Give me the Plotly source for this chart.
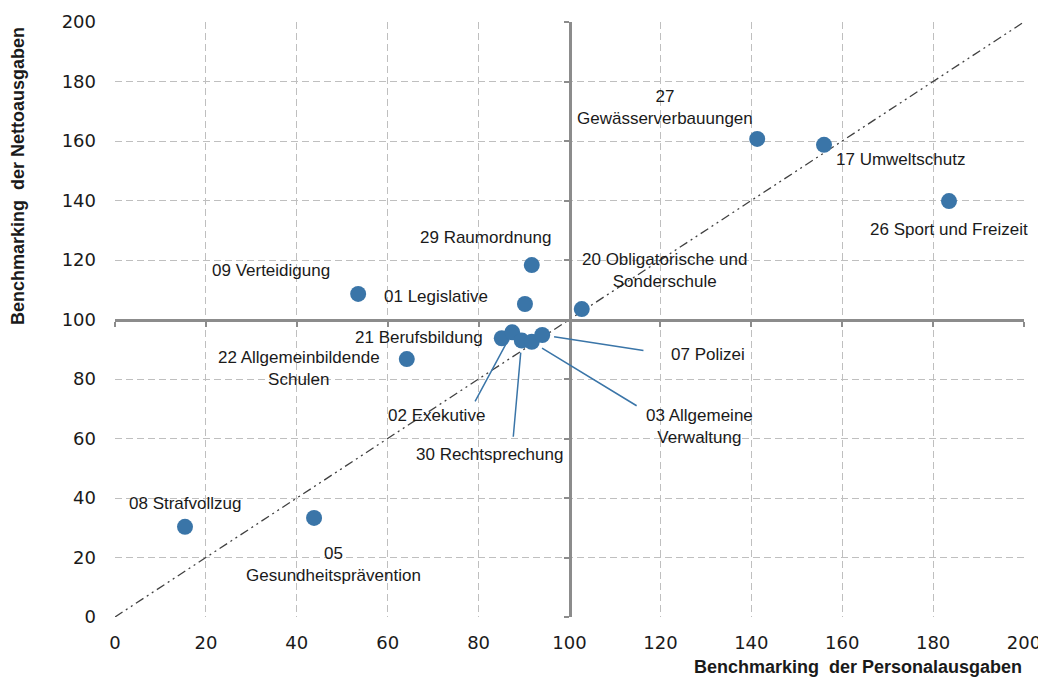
import plotly.graph_objects as go

# ---- data ----
names = ["27<br>Gewässerverbauungen", "17 Umweltschutz", "26 Sport und Freizeit",
         "29 Raumordnung", "09 Verteidigung", "01 Legislative",
         "20 Obligatorische und<br>Sonderschule", "22 Allgemeinbildende<br>Schulen",
         "21 Berufsbildung", "02 Exekutive", "30 Rechtsprechung",
         "03 Allgemeine<br>Verwaltung", "07 Polizei", "08 Strafvollzug",
         "05<br>Gesundheitsprävention"]
personal = [141.3, 156.0, 183.5, 91.7, 53.5, 90.2, 102.7, 64.2,
            85.1, 87.4, 89.5, 91.7, 94.0, 15.4, 43.8]
netto = [160.7, 158.7, 139.8, 118.3, 108.6, 105.2, 103.5, 86.7,
         93.7, 95.7, 92.9, 92.5, 94.8, 30.3, 33.3]

# label placement (data coords of label centre) and optional leader start
label_pos = [(121.0, 171.1), (172.9, 153.9), (183.5, 130.4),
             (81.6, 127.7), (34.3, 116.6), (70.6, 107.6),
             (120.8, 116.6), (40.5, 83.4),
             (66.9, 94.1), (70.8, 67.9), (82.3, 54.5),
             (128.7, 64.2), (130.5, 88.4), (15.4, 38.3),
             (48.0, 17.5)]
leader_start = {9: (79.05, 72.0), 10: (87.6, 60.1), 11: (115.1, 70.7), 12: (116.6, 89.5)}

ticks = list(range(0, 201, 20))
diag = [0, 200]

BLUE = "#3a75a8"
GRID = "#bfbfbf"
AXIS = "#8c8c8c"
TXT = "#1a1a1a"
FONT = "Liberation Sans, Arial, sans-serif"
TFONT = "Liberation Sans Narrow, Arial Narrow, Liberation Sans"

fig = go.Figure()

fig.add_trace(go.Scatter(x=diag, y=diag, mode="lines",
                         line=dict(color="#404040", width=1.3, dash="9px,4px,2px,4px,2px,4px"),
                         hoverinfo="skip", showlegend=False))

fig.add_trace(go.Scatter(x=personal, y=netto, mode="markers",
                         marker=dict(color=BLUE, size=16, line=dict(width=0)),
                         text=names, showlegend=False))

# helper invisible trace for crossing axes
fig.add_trace(go.Scatter(x=[0], y=[0], xaxis="x2", yaxis="y2", mode="markers",
                         marker=dict(opacity=0), hoverinfo="skip", showlegend=False))

annotations = []
for i, (nm, (lx, ly)) in enumerate(zip(names, label_pos)):
    annotations.append(dict(x=lx, y=ly, xref="x", yref="y", text=nm, showarrow=False,
                            align="center", xanchor="center", yanchor="middle",
                            font=dict(family=FONT, size=17, color=TXT)))
for i, (sx, sy) in leader_start.items():
    annotations.append(dict(x=personal[i], y=netto[i], xref="x", yref="y",
                            ax=sx, ay=sy, axref="x", ayref="y", text="",
                            showarrow=True, arrowhead=0, arrowwidth=1.5,
                            arrowcolor=BLUE, standoff=12))

annotations.append(dict(x=1, y=-0.084, xref="paper", yref="paper",
                        text="<b>Benchmarking&nbsp; der Personalausgaben</b>",
                        showarrow=False, xanchor="right", yanchor="middle",
                        font=dict(family=TFONT, size=18, color=TXT)))
annotations.append(dict(x=-0.1067, y=0.741, xref="paper", yref="paper",
                        text="<b>Benchmarking&nbsp; der Nettoausgaben</b>", textangle=-90,
                        showarrow=False, xanchor="center", yanchor="middle",
                        font=dict(family=TFONT, size=18, color=TXT)))

fig.update_layout(
    width=1038, height=669,
    margin=dict(l=107, r=22, t=14, b=60, autoexpand=False),
    paper_bgcolor="white", plot_bgcolor="white",
    xaxis=dict(range=[0, 200], tickvals=ticks, showgrid=True, gridcolor=GRID, griddash="7px,4px",
               gridwidth=1, zeroline=False, showline=False, ticks="", automargin=False,
               tickfont=dict(family="DejaVu Sans, sans-serif", size=18, color=TXT),
               ticklabelstandoff=13),
    yaxis=dict(range=[0, 200], tickvals=ticks, showgrid=True, gridcolor=GRID, griddash="7px,4px",
               gridwidth=1, zeroline=False, showline=False, ticks="", automargin=False,
               tickfont=dict(family="DejaVu Sans, sans-serif", size=18, color=TXT),
               ticklabelstandoff=18),
    xaxis2=dict(range=[0, 200], tickvals=ticks, overlaying="x", anchor="free", position=0.5,
                showline=True, linecolor=AXIS, linewidth=3, ticks="outside", ticklen=5,
                automargin=False,
                tickwidth=2, tickcolor=AXIS, showticklabels=False, showgrid=False, zeroline=False),
    yaxis2=dict(range=[0, 200], tickvals=ticks, overlaying="y", anchor="free", position=0.5,
                showline=True, linecolor=AXIS, linewidth=3, ticks="outside", ticklen=5,
                automargin=False,
                tickwidth=2, tickcolor=AXIS, showticklabels=False, showgrid=False, zeroline=False),
    annotations=annotations,
    showlegend=False,
)

fig.write_html("out.html")
